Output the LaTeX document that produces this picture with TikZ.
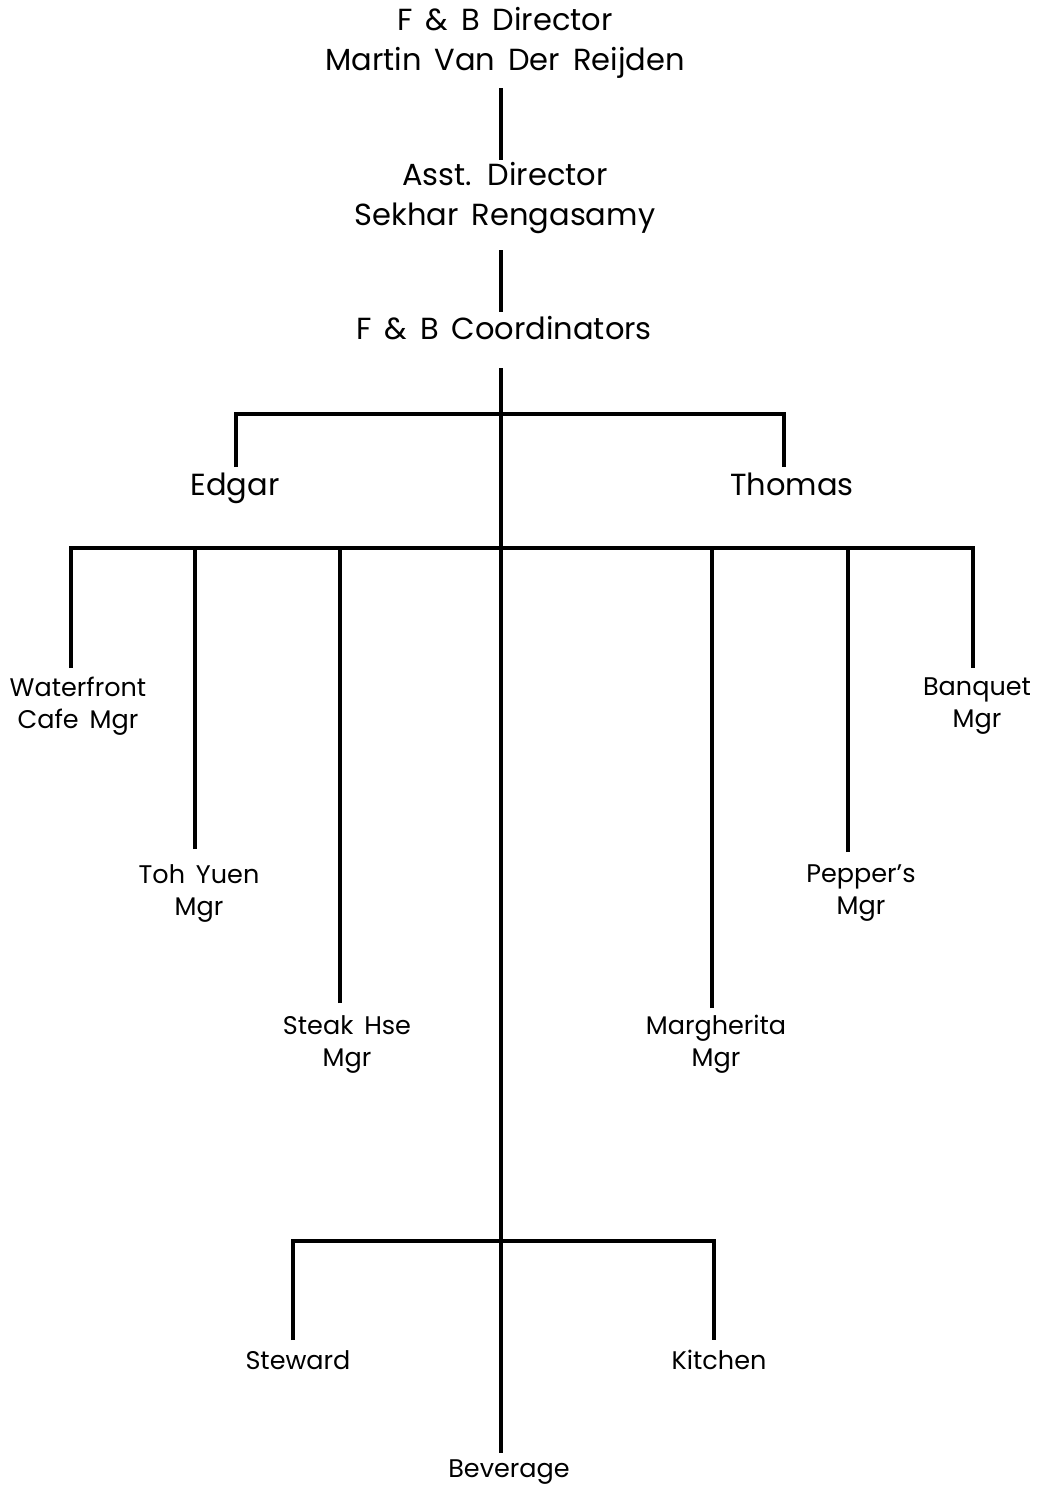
\documentclass[tikz,border=0pt]{standalone}
\usepackage{fontspec}
\setmainfont[WordSpace=1.6]{Poppins}
\begin{document}
\begin{tikzpicture}[x=1pt,y=-1pt,
  big/.style={font=\fontsize{30.5}{40}\selectfont, align=center, inner sep=0pt},
  small/.style={font=\fontsize{25.5}{32}\selectfont, align=center, inner sep=0pt},
  link/.style={line width=3.2pt}]
\useasboundingbox[fill=white] (0,0) rectangle (1043,1486);

% people and units
\node[big] (dir)    at (505,43)   {F \& B Director\\Martin Van Der Reijden};
\node[big] (asst)   at (505,198)  {Asst. Director\\Sekhar Rengasamy};
\node[big, anchor=base] (coord)  at (504,339)  {F \& B Coordinators};
\node[big, anchor=base] (edgar)  at (235,495)  {Edgar};
\node[big, anchor=base] (thomas) at (792,495)  {Thomas};
\node[small] (wf)   at (78,706)   {Waterfront\\Cafe Mgr};
\node[small] (toh)  at (199,893)  {Toh Yuen\\Mgr};
\node[small] (stk)  at (347,1044) {Steak Hse\\Mgr};
\node[small] (mar)  at (716,1044) {Margherita\\Mgr};
\node[small] (pep)  at (861,893)  {Pepper's\\Mgr};
\node[small] (ban)  at (977,706)  {Banquet\\Mgr};
\node[small, anchor=base] (stw)  at (298,1369) {Steward};
\node[small, anchor=base] (kit)  at (719,1369) {Kitchen};
\node[small, anchor=base] (bev)  at (509,1477) {Beverage};

% connector end points
\coordinate (dirB)   at (501,88);
\coordinate (asstT)  at (501,160);
\coordinate (asstB)  at (501,250);
\coordinate (coordT) at (501,312);
\coordinate (coordB) at (501,368);
\coordinate (bevT)   at (501,1453);
\coordinate (edgT)   at (236,467);
\coordinate (thoT)   at (784,467);
\coordinate (bar1)   at (501,414);
\coordinate (bar2)   at (501,548);
\coordinate (bar3)   at (501,1241);
\coordinate (wfT)    at (71,668);
\coordinate (tohT)   at (195,849);
\coordinate (stkT)   at (340,1003);
\coordinate (marT)   at (712,1008);
\coordinate (pepT)   at (848,852);
\coordinate (banT)   at (973,668);
\coordinate (stwT)   at (293,1340);
\coordinate (kitT)   at (714,1340);

% reporting lines
\draw[link] (dirB) -- (asstT);
\draw[link] (asstB) -- (coordT);
\draw[link] (coordB) -- (bevT);
\draw[link] (edgT) |- (bar1) -| (thoT);
\draw[link] (wfT) |- (bar2) -| (banT);
\draw[link] (tohT) -- (tohT |- bar2);
\draw[link] (stkT) -- (stkT |- bar2);
\draw[link] (marT) -- (marT |- bar2);
\draw[link] (pepT) -- (pepT |- bar2);
\draw[link] (stwT) |- (bar3) -| (kitT);
\end{tikzpicture}
\end{document}
